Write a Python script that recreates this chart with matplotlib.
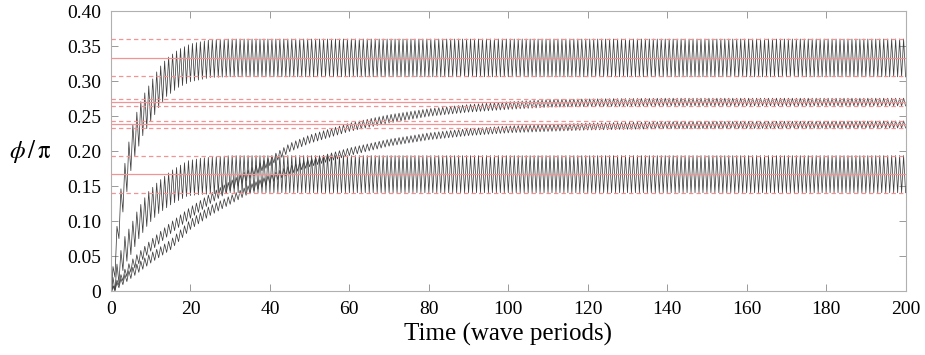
import numpy as np
import matplotlib
matplotlib.use('Agg')
import matplotlib.pyplot as plt

plt.rcParams['font.family'] = 'serif'
plt.rcParams['font.serif'] = ['Liberation Serif', 'DejaVu Serif']
plt.rcParams['mathtext.fontset'] = 'stix'

# steady-state levels (mean, lower bound, upper bound) -> red lines
levels_mean = [0.333, 0.270, 0.238, 0.167]
levels_low = [0.307, 0.264, 0.233, 0.140]
levels_high = [0.360, 0.275, 0.243, 0.193]

# centre and half-amplitude of each oscillating curve
t_a = [0, 1, 2, 3, 4, 5, 6, 7, 8, 10, 12, 14, 17, 20, 25, 30, 200]
c_a = [0.0, 0.04, 0.10, 0.14, 0.17, 0.20, 0.22, 0.235, 0.25, 0.27, 0.29, 0.305, 0.318, 0.326, 0.332, 0.333, 0.333]
a_a = [0.01, 0.02, 0.025, 0.027, 0.028, 0.028, 0.028, 0.028, 0.028, 0.028, 0.028, 0.027, 0.027, 0.027, 0.027, 0.027, 0.027]

t_d = [0, 2, 3.5, 5.2, 6.8, 9.3, 11.8, 15.2, 19.3, 22.7, 30, 200]
c_d = [0.0, 0.03, 0.058, 0.075, 0.095, 0.118, 0.133, 0.148, 0.161, 0.164, 0.167, 0.167]
a_d = [0.01, 0.018, 0.02, 0.021, 0.022, 0.023, 0.023, 0.024, 0.025, 0.026, 0.0265, 0.0265]

t_b = [0, 5, 10, 15, 20, 25, 30, 35, 40, 45, 50, 60, 70, 80, 90, 100, 110, 120, 140, 200]
c_b = [0.0, 0.035, 0.065, 0.09, 0.112, 0.132, 0.150, 0.168, 0.185, 0.205, 0.217, 0.234, 0.246, 0.255, 0.261, 0.265, 0.268, 0.269, 0.270, 0.270]
a_b = [0.004, 0.008, 0.008, 0.008, 0.008, 0.007, 0.007, 0.007, 0.006, 0.006, 0.006, 0.006, 0.006, 0.0055, 0.0055, 0.0055, 0.0055, 0.0055, 0.0055, 0.0055]

t_c = [0, 5, 10, 15, 20, 25, 30, 35, 40, 45, 50, 60, 70, 80, 90, 100, 120, 140, 200]
c_c = [0.0, 0.025, 0.047, 0.066, 0.095, 0.115, 0.130, 0.146, 0.160, 0.173, 0.183, 0.199, 0.212, 0.221, 0.227, 0.231, 0.235, 0.237, 0.238]
a_c = [0.004, 0.007, 0.007, 0.007, 0.007, 0.007, 0.006, 0.006, 0.006, 0.006, 0.0055, 0.0055, 0.005, 0.005, 0.005, 0.005, 0.005, 0.005, 0.005]

x_ticks = [0, 20, 40, 60, 80, 100, 120, 140, 160, 180, 200]
y_ticks = [0, 0.05, 0.10, 0.15, 0.20, 0.25, 0.30, 0.35, 0.40]
y_tick_labels = ['0', '0.05', '0.10', '0.15', '0.20', '0.25', '0.30', '0.35', '0.40']


def oscillate(t_knots, centre, amp):
    # one peak and one trough per wave period, between the read envelopes
    t = np.arange(0, 200.001, 0.5)
    side = np.where(np.arange(len(t)) % 2 == 0, -1.0, 1.0)
    return t, np.interp(t, t_knots, centre) + side * np.interp(t, t_knots, amp)


fig = plt.figure(figsize=(9.25, 3.55), dpi=100)
ax = fig.add_axes([0.12, 0.18, 0.859, 0.789])

for tk, c, a in [(t_a, c_a, a_a), (t_d, c_d, a_d), (t_b, c_b, a_b), (t_c, c_c, a_c)]:
    t, y = oscillate(tk, c, a)
    ax.plot(t, y, color='#404040', linewidth=0.55, zorder=2)

for m, lo, hi in zip(levels_mean, levels_low, levels_high):
    ax.axhline(m, color='#f29494', linewidth=0.9, zorder=3)
    ax.axhline(lo, color='#f29494', linewidth=0.9, dashes=(3.5, 2.5), zorder=3)
    ax.axhline(hi, color='#f29494', linewidth=0.9, dashes=(3.5, 2.5), zorder=3)

ax.set_xlim(0, 200)
ax.set_ylim(0, 0.40)
ax.set_xticks(x_ticks)
ax.set_yticks(y_ticks)
ax.set_yticklabels(y_tick_labels)
ax.tick_params(direction='in', length=5, width=0.7, color='#999999',
               labelsize=14, top=True, right=True, pad=7)
for s in ax.spines.values():
    s.set_color('#b0b0b0')
    s.set_linewidth(0.8)

ax.set_xlabel('Time (wave periods)', fontsize=18, labelpad=4)
ax.set_ylabel(r'$\phi\,/\,\mathrm{\pi}$', fontsize=18, rotation=0, va='center', ha='center')
ax.yaxis.set_label_coords(-0.102, 0.5)

fig.savefig('out.png', dpi=100)
